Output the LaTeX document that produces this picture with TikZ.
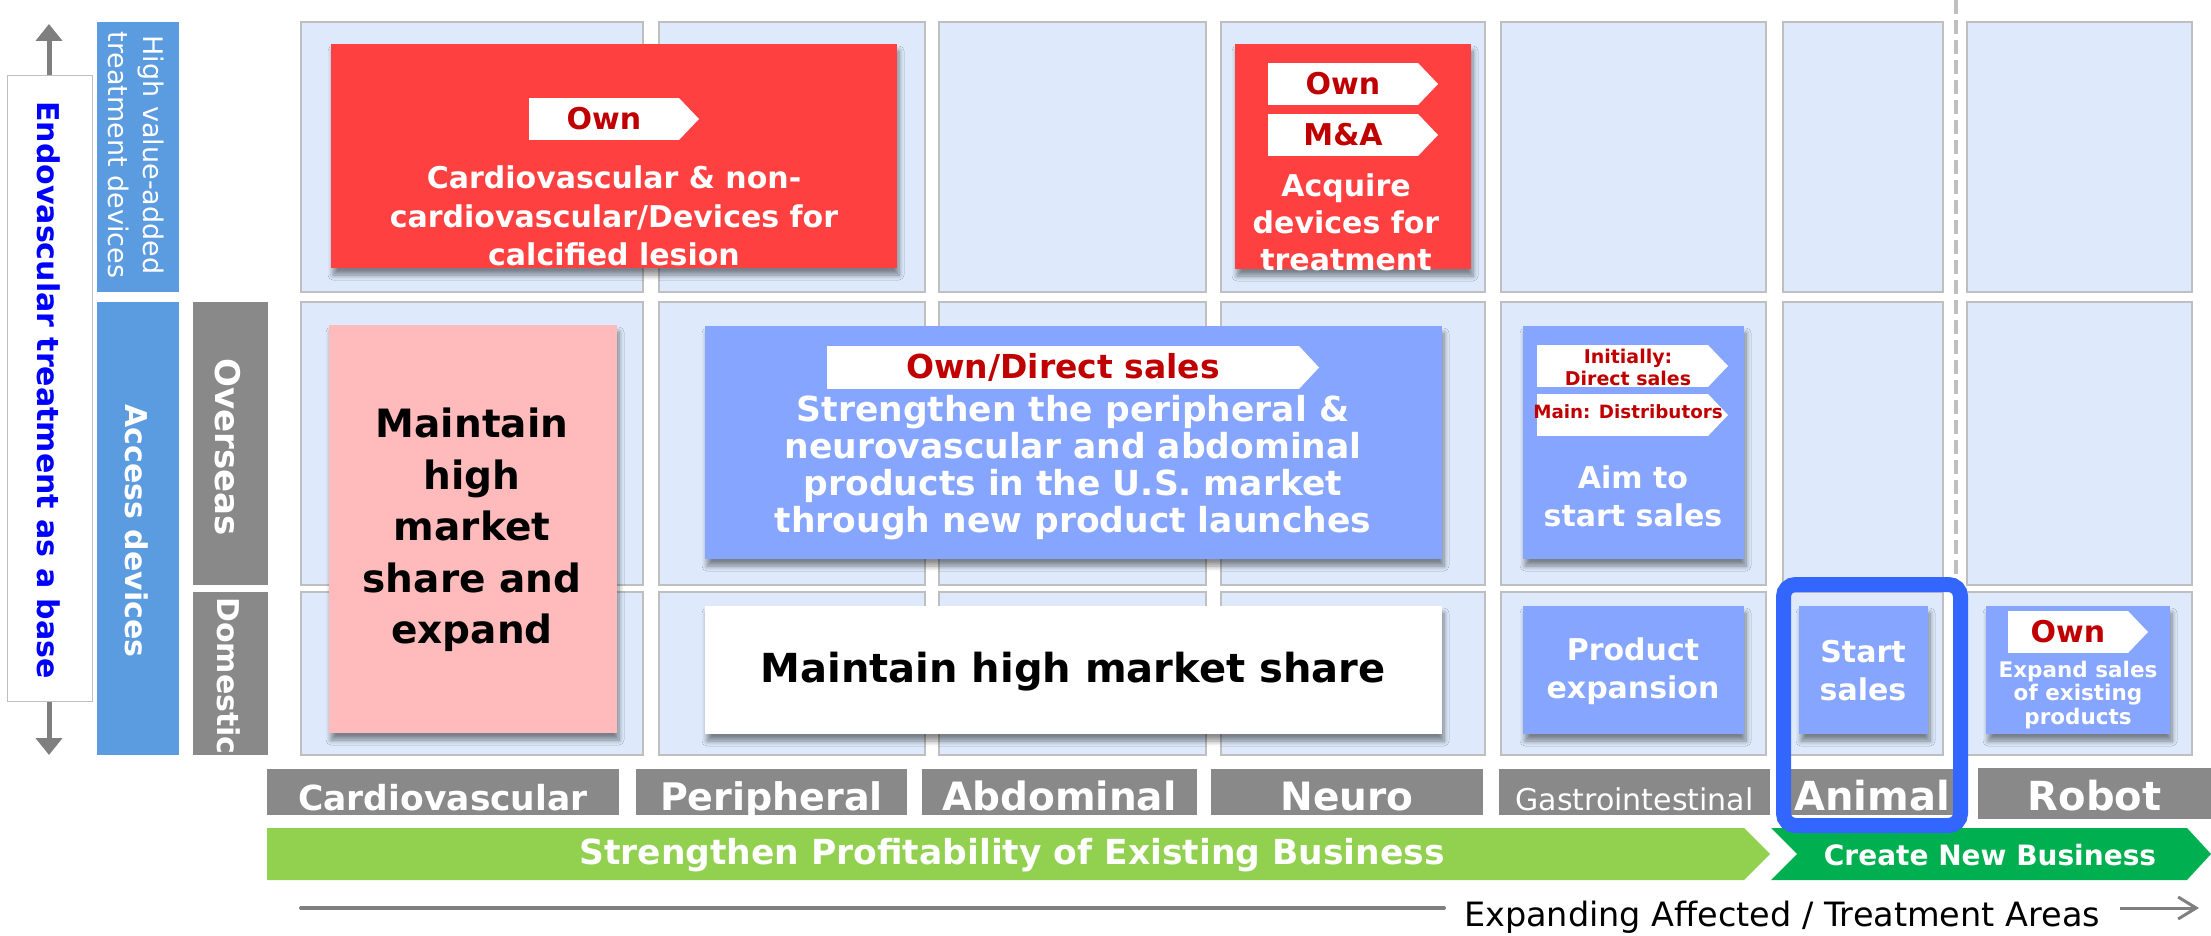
\documentclass[tikz,border=0pt]{standalone}
\usepackage{fontspec}
\setmainfont{DejaVu Sans}
\usetikzlibrary{arrows.meta,shadows.blur}
\definecolor{cellfill}{RGB}{222,234,252}
\definecolor{cellline}{RGB}{191,191,191}
\definecolor{redbox}{RGB}{255,64,64}
\definecolor{tagred}{RGB}{192,0,0}
\definecolor{pinkbox}{RGB}{255,187,187}
\definecolor{bluebox}{RGB}{134,165,255}
\definecolor{sideblue}{RGB}{91,155,224}
\definecolor{labgray}{RGB}{137,137,137}
\definecolor{lgreen}{RGB}{146,208,80}
\definecolor{dgreen}{RGB}{0,176,80}
\definecolor{hiblue}{RGB}{51,102,255}
\definecolor{axisgray}{RGB}{127,127,127}
\definecolor{pureblue}{RGB}{0,0,255}
\newcommand{\myfs}[2]{\fontsize{#1}{#2}\selectfont}
\begin{document}
\begin{tikzpicture}[x=1pt,y=-1pt,
  cell/.style={draw=cellline, fill=cellfill, line width=1.5},
  box/.style={inner sep=0, outer sep=0, blur shadow={shadow xshift=2pt, shadow yshift=-7pt, shadow blur radius=5pt, shadow blur steps=8, shadow opacity=45}},
  side/.style={inner sep=0, outer sep=0},
  tagbox/.style={fill=white, inner sep=0, outer sep=0, text=tagred},
  wtxt/.style={inner sep=0, align=center, text=white},
  lbl/.style={fill=labgray, inner sep=0, outer sep=0},
  lbltxt/.style={inner sep=0, anchor=base, text=white},
]
\useasboundingbox (0,0) rectangle (2211,936);

% grid cells
\foreach \xa/\xb in {301/643,659/925,939/1206,1221/1485,1501/1766,1783/1943,1967/2192}
  \foreach \ya/\yb in {22/292,302/585,592/755}
    \draw[cell] (\xa,\ya) rectangle (\xb,\yb);

% dashed separator
\coordinate (dashT) at (1956,0);
\coordinate (dashB) at (1956,577);
\draw[cellline, line width=4, dash pattern=on 14pt off 6pt] (dashT) -- (dashB);

% left vertical arrow and label
\coordinate (endoT) at (49,24);
\coordinate (endoB) at (49,755);
\draw[axisgray, line width=5, {Triangle[width=26pt,length=17pt]}-{Triangle[width=26pt,length=17pt]}] (endoT) -- (endoB);
\node[draw=cellline, fill=white, line width=1, minimum width=85, minimum height=625, inner sep=0] (endo) at (49.5,388.5) {};
\node[rotate=-90, inner sep=0, text=pureblue, font=\bfseries\myfs{30}{36}] (endotxt) at (49,390) {Endovascular treatment as a base};

\node[side, fill=sideblue, minimum width=82, minimum height=270] (hv) at (138,157) {};
\node[rotate=-90, wtxt, font=\myfs{27}{35}] (hvtxt) at (136,155) {High value-added\\treatment devices};
\node[side, fill=sideblue, minimum width=82, minimum height=453] (acc) at (138,528.5) {};
\node[rotate=-90, wtxt, font=\bfseries\myfs{30}{36}] (acctxt) at (137,531) {Access devices};
\node[side, fill=labgray, minimum width=75, minimum height=283] (ovs) at (230.5,443.5) {};
\node[rotate=-90, wtxt, font=\bfseries\myfs{34}{40}] (ovstxt) at (228,447) {Overseas};
\node[side, fill=labgray, minimum width=75, minimum height=163] (dom) at (230.5,673.5) {};
\node[rotate=-90, wtxt, font=\bfseries\myfs{30}{36}] (domtxt) at (229,676) {Domestic};

% red box 1
\node[box, fill=redbox, minimum width=566, minimum height=224] (rb1) at (614,156) {};
\node[tagbox, minimum width=150, minimum height=42, font=\bfseries\myfs{30}{36}] (rb1tag) at (604,119) {Own};
\fill[white] (rb1tag.north east) -- ([xshift=20pt]rb1tag.east) -- (rb1tag.south east) -- cycle;
\node[wtxt, font=\bfseries\myfs{30}{38.5}] (rb1txt) at (614,216) {Cardiovascular \& non-\\cardiovascular/Devices for\\calcified lesion};

% red box 2
\node[box, fill=redbox, minimum width=236, minimum height=225] (rb2) at (1353,156.5) {};
\node[tagbox, minimum width=150, minimum height=42, font=\bfseries\myfs{30}{36}] (rb2tagA) at (1343,84) {Own};
\fill[white] (rb2tagA.north east) -- ([xshift=20pt]rb2tagA.east) -- (rb2tagA.south east) -- cycle;
\node[tagbox, minimum width=150, minimum height=42, font=\bfseries\myfs{30}{36}] (rb2tagB) at (1343,135) {M\&A};
\fill[white] (rb2tagB.north east) -- ([xshift=20pt]rb2tagB.east) -- (rb2tagB.south east) -- cycle;
\node[wtxt, font=\bfseries\myfs{30}{37}] (rb2txt) at (1346,222) {Acquire\\devices for\\treatment};

% pink box
\node[box, fill=pinkbox, minimum width=288, minimum height=408] (pink) at (473,529) {};
\node[inner sep=0, align=center, font=\bfseries\myfs{39}{51.5}] (pinktxt) at (472,530) {Maintain\\high\\market\\share and\\expand};

% blue box 2 (peripheral..neuro overseas)
\node[box, fill=bluebox, minimum width=737, minimum height=233] (bb2) at (1073.5,442.5) {};
\node[tagbox, minimum width=472, minimum height=43, font=\bfseries\myfs{33}{38}] (bb2tag) at (1063,367.5) {Own/Direct sales};
\fill[white] (bb2tag.north east) -- ([xshift=20pt]bb2tag.east) -- (bb2tag.south east) -- cycle;
\node[wtxt, font=\bfseries\myfs{34.5}{37}] (bb2txt) at (1073,467.5) {Strengthen the peripheral \&\\neurovascular and abdominal\\products in the U.S. market\\through new product launches};

% white box
\node[box, fill=white, minimum width=737, minimum height=128] (wb) at (1073.5,670) {};
\node[inner sep=0, font=\bfseries\myfs{40}{48}] (wbtxt) at (1073,672) {Maintain high market share};

% blue box 3 (gastro overseas)
\node[box, fill=bluebox, minimum width=221, minimum height=233] (bb3) at (1633.5,442.5) {};
\node[tagbox, minimum width=171, minimum height=42] (bb3tagA) at (1622.5,366) {};
\fill[white] (bb3tagA.north east) -- ([xshift=20pt]bb3tagA.east) -- (bb3tagA.south east) -- cycle;
\node[inner sep=0, align=center, text=tagred, font=\bfseries\myfs{19}{22}] (bb3tagAtxt) at (1628,367) {Initially:\\Direct sales};
\node[tagbox, minimum width=171, minimum height=42] (bb3tagB) at (1622.5,415) {};
\fill[white] (bb3tagB.north east) -- ([xshift=20pt]bb3tagB.east) -- (bb3tagB.south east) -- cycle;
\node[inner sep=0, text=tagred, font=\bfseries\myfs{18.3}{22}] (bb3tagBtxt) at (1628,412) {Main: Distributors};
\node[wtxt, font=\bfseries\myfs{30}{38}] (bb3txt) at (1633,496) {Aim to\\start sales};

% blue box 4 (gastro domestic)
\node[box, fill=bluebox, minimum width=221, minimum height=128] (bb4) at (1633.5,670) {};
\node[wtxt, font=\bfseries\myfs{30}{38}] (bb4txt) at (1633,671) {Product\\expansion};

% blue box 5 (animal domestic)
\node[box, fill=bluebox, minimum width=129, minimum height=128] (bb5) at (1863.5,670) {};
\node[wtxt, font=\bfseries\myfs{30}{38}] (bb5txt) at (1863,671) {Start\\sales};

% blue box 6 (robot domestic)
\node[box, fill=bluebox, minimum width=184, minimum height=128] (bb6) at (2078,670) {};
\node[tagbox, minimum width=120, minimum height=42, font=\bfseries\myfs{30}{36}] (bb6tag) at (2068,632) {Own};
\fill[white] (bb6tag.north east) -- ([xshift=20pt]bb6tag.east) -- (bb6tag.south east) -- cycle;
\node[wtxt, font=\bfseries\myfs{21.5}{23.5}] (bb6txt) at (2078,694.7) {Expand sales\\of existing\\products};

% category labels
\node[lbl, minimum width=352, minimum height=46] (cat1) at (443,792) {};
\node[lbltxt, font=\bfseries\myfs{34.5}{40}] (cat1txt) at (443,810) {Cardiovascular};
\node[lbl, minimum width=271, minimum height=46] (cat2) at (771.5,792) {};
\node[lbltxt, font=\bfseries\myfs{38}{44}] (cat2txt) at (771.5,810) {Peripheral};
\node[lbl, minimum width=275, minimum height=46] (cat3) at (1059.5,792) {};
\node[lbltxt, font=\bfseries\myfs{39}{44}] (cat3txt) at (1059.5,810) {Abdominal};
\node[lbl, minimum width=272, minimum height=46] (cat4) at (1347,792) {};
\node[lbltxt, font=\bfseries\myfs{39}{44}] (cat4txt) at (1347,810) {Neuro};
\node[lbl, minimum width=271, minimum height=46] (cat5) at (1634.5,792) {};
\node[lbltxt, font=\myfs{30}{36}] (cat5txt) at (1634.5,810) {Gastrointestinal};
\node[lbl, minimum width=162, minimum height=46] (cat6) at (1872,792) {};
\node[lbltxt, font=\bfseries\myfs{40}{44}] (cat6txt) at (1872,810) {Animal};
\node[lbl, minimum width=233, minimum height=51] (cat7) at (2094.5,793.5) {};
\node[lbltxt, font=\bfseries\myfs{40}{44}] (cat7txt) at (2094.5,810) {Robot};

% green chevrons
\fill[lgreen] (267,828) -- (1744,828) -- (1770,854) -- (1744,880) -- (267,880) -- cycle;
\fill[dgreen] (1771,828) -- (2187,828) -- (2211,854) -- (2187,880) -- (1771,880) -- (1797,854) -- cycle;
\node[wtxt, font=\bfseries\myfs{34.5}{40}] (g1txt) at (1012,855) {Strengthen Profitability of Existing Business};
\node[wtxt, font=\bfseries\myfs{28}{34}] (g2txt) at (1990,855) {Create New Business};

% animal highlight
\draw[hiblue, line width=15, rounded corners=12] (1783.5,584.5) rectangle (1960.5,825.5);

% bottom axis
\coordinate (axA) at (301,908);
\coordinate (axB) at (1444,908);
\coordinate (axC) at (2120,908);
\coordinate (axD) at (2199,908);
\draw[axisgray, line width=4, line cap=round] (axA) -- (axB);
\node[inner sep=0, font=\myfs{33.5}{40}] (axtxt) at (1782,917) {Expanding Affected / Treatment Areas};
\draw[axisgray, line width=3, -{Straight Barb[length=18pt,width=22pt]}] (axC) -- (axD);
\end{tikzpicture}
\end{document}
